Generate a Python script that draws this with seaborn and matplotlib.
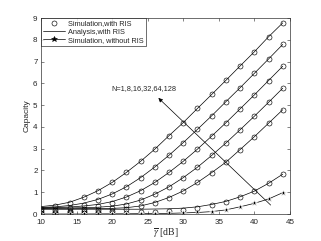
import numpy as np
import pandas as pd
import seaborn as sns
import matplotlib.pyplot as plt

# ── Data ─────────────────────────────────────────────────────────────
SNR_DB = [10, 12, 14, 16, 18, 20, 22, 24, 26, 28, 30, 32, 34, 36, 38, 40, 42, 44]
N_VALUES = [1, 8, 16, 32, 64, 128]

# Simulation, with RIS (markers)
SIM_N1 = [0.01, 0.015, 0.02, 0.03, 0.04, 0.05, 0.06, 0.08, 0.10, 0.13, 0.18, 0.28, 0.42, 0.57, 0.79, 1.05, 1.41, 1.83]
SIM_N8 = [0.02, 0.02, 0.04, 0.06, 0.10, 0.15, 0.23, 0.35, 0.52, 0.75, 1.06, 1.45, 1.90, 2.38, 2.96, 3.55, 4.17, 4.79]
SIM_N16 = [0.03, 0.05, 0.08, 0.12, 0.19, 0.28, 0.43, 0.63, 0.90, 1.25, 1.67, 2.15, 2.69, 3.26, 3.87, 4.49, 5.13, 5.78]
SIM_N32 = [0.06, 0.10, 0.15, 0.23, 0.35, 0.52, 0.76, 1.07, 1.45, 1.91, 2.42, 2.98, 3.58, 4.19, 4.83, 5.47, 6.13, 6.79]
SIM_N64 = [0.12, 0.19, 0.29, 0.43, 0.63, 0.90, 1.25, 1.67, 2.16, 2.70, 3.28, 3.89, 4.51, 5.16, 5.80, 6.46, 7.12, 7.79]
SIM_N128 = [0.23, 0.36, 0.52, 0.77, 1.07, 1.45, 1.91, 2.42, 2.98, 3.60, 4.20, 4.85, 5.49, 6.14, 6.80, 7.45, 8.14, 8.78]

# Analysis, with RIS (lines)
ANA_N1 = [0.22, 0.22, 0.22, 0.22, 0.22, 0.22, 0.22, 0.22, 0.23, 0.24, 0.27, 0.33, 0.44, 0.58, 0.79, 1.05, 1.41, 1.83]
ANA_N8 = [0.24, 0.24, 0.24, 0.25, 0.25, 0.26, 0.29, 0.37, 0.53, 0.76, 1.06, 1.45, 1.90, 2.38, 2.96, 3.55, 4.17, 4.79]
ANA_N16 = [0.26, 0.27, 0.28, 0.29, 0.31, 0.36, 0.46, 0.64, 0.91, 1.25, 1.67, 2.15, 2.69, 3.26, 3.87, 4.49, 5.13, 5.78]
ANA_N32 = [0.28, 0.30, 0.32, 0.37, 0.44, 0.57, 0.78, 1.07, 1.45, 1.91, 2.42, 2.98, 3.58, 4.19, 4.83, 5.47, 6.13, 6.79]
ANA_N64 = [0.30, 0.33, 0.39, 0.50, 0.67, 0.92, 1.25, 1.67, 2.16, 2.70, 3.28, 3.89, 4.51, 5.16, 5.80, 6.46, 7.12, 7.79]
ANA_N128 = [0.34, 0.41, 0.54, 0.77, 1.07, 1.45, 1.91, 2.42, 2.98, 3.60, 4.20, 4.85, 5.49, 6.14, 6.80, 7.45, 8.14, 8.78]

# Simulation, without RIS
NO_RIS = [0.0, 0.0, 0.0, 0.0, 0.005, 0.008, 0.01, 0.015, 0.02, 0.03, 0.05, 0.07, 0.11, 0.19, 0.33, 0.49, 0.69, 0.98]

X_TICKS = [10, 15, 20, 25, 30, 35, 40, 45]
Y_TICKS = [0, 1, 2, 3, 4, 5, 6, 7, 8, 9]
ANNOT_TEXT = 'N=1,8,16,32,64,128'

sim_sets = [SIM_N1, SIM_N8, SIM_N16, SIM_N32, SIM_N64, SIM_N128]
ana_sets = [ANA_N1, ANA_N8, ANA_N16, ANA_N32, ANA_N64, ANA_N128]

rows = []
for n, sim, ana in zip(N_VALUES, sim_sets, ana_sets):
    for s, v_sim, v_ana in zip(SNR_DB, sim, ana):
        rows.append({'snr': s, 'N': n, 'sim': v_sim, 'ana': v_ana})
df = pd.DataFrame(rows)
df_no = pd.DataFrame({'snr': SNR_DB, 'cap': NO_RIS})

# ── Figure ───────────────────────────────────────────────────────────
sns.set_style('ticks')
plt.rcParams['font.family'] = ['Liberation Sans', 'DejaVu Sans']
plt.rcParams['mathtext.fontset'] = 'stix'

fig = plt.figure(figsize=(3.21, 2.41), dpi=100)
ax = fig.add_axes([0.128, 0.112, 0.775, 0.813])

lw = 0.5
for n in N_VALUES:
    sub = df[df['N'] == n]
    sns.lineplot(data=sub, x='snr', y='ana', color='black', lw=lw, ax=ax,
                 estimator=None, sort=True)
    sns.lineplot(data=sub, x='snr', y='sim', color='black', linestyle='none',
                 marker='o', markersize=3.6, markerfacecolor='none',
                 markeredgecolor='black', markeredgewidth=0.45, ax=ax,
                 estimator=None)

sns.lineplot(data=df_no, x='snr', y='cap', color='black', lw=lw,
             marker='*', markersize=4.2, markeredgewidth=0.4, ax=ax,
             estimator=None)

# Arrow with annotation
ax.annotate('', xy=(26.5, 5.33), xytext=(42.3, 0.41),
            arrowprops=dict(arrowstyle='-|>', color='black', lw=0.5,
                            mutation_scale=6, shrinkA=0, shrinkB=0))
ax.text(24.5, 5.76, ANNOT_TEXT, fontsize=5.3, ha='center', va='center')

# Legend
h_sim = plt.Line2D([], [], color='black', linestyle='none', marker='o',
                   markersize=3.6, markerfacecolor='none', markeredgewidth=0.45)
h_ana = plt.Line2D([], [], color='black', lw=lw)
h_no = plt.Line2D([], [], color='black', lw=lw, marker='*', markersize=4.2,
                  markeredgewidth=0.4)
leg = ax.legend([h_sim, h_ana, h_no],
                ['Simulation,with RIS', 'Analysis,with RIS', 'Simulation, without RIS'],
                loc='upper left', bbox_to_anchor=(0, 1), borderaxespad=0,
                fontsize=5.3, frameon=True, fancybox=False, handlelength=3.0,
                handletextpad=0.4, labelspacing=0.15, borderpad=0.3)
leg.get_frame().set_edgecolor('black')
leg.get_frame().set_linewidth(0.5)

ax.set_xlim(10, 45)
ax.set_ylim(0, 9)
ax.set_xticks(X_TICKS)
ax.set_yticks(Y_TICKS)
ax.tick_params(direction='in', top=True, right=True, length=2.5, width=0.4,
               labelsize=5.8)
ax.tick_params(axis='x', pad=3.5)
ax.tick_params(axis='y', pad=2.5)
for sp in ax.spines.values():
    sp.set_linewidth(0.5)
    sp.set_color('#333333')

ax.set_xlabel(r'$\overline{\gamma}$ [dB]', fontsize=7, family='Liberation Serif',
              labelpad=0.5)
ax.set_ylabel('Capacity', fontsize=6, labelpad=2)

fig.savefig('out.png', dpi=100)
